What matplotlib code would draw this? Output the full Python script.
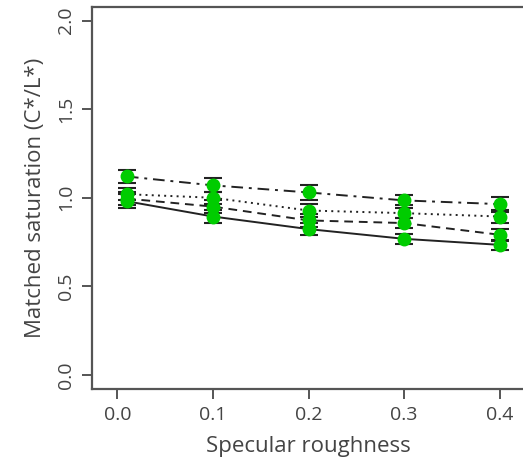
import matplotlib.pyplot as plt

roughness = [0.01, 0.1, 0.2, 0.3, 0.4]

# matched saturation per condition (four series) and their error bars
sat_dashdot = [1.12, 1.07, 1.03, 0.985, 0.964]
sat_dotted = [1.02, 1.00, 0.928, 0.913, 0.894]
sat_dashed = [0.995, 0.95, 0.872, 0.857, 0.791]
sat_solid = [0.98, 0.894, 0.823, 0.768, 0.734]

err_dashdot = [0.035, 0.04, 0.04, 0.028, 0.043]
err_dotted = [0.035, 0.035, 0.035, 0.03, 0.035]
err_dashed = [0.035, 0.035, 0.035, 0.03, 0.035]
err_solid = [0.04, 0.037, 0.033, 0.028, 0.028]

series = [
    (sat_dashdot, err_dashdot, (0, (6, 3, 1.5, 3))),
    (sat_dotted, err_dotted, (0, (1, 2.2))),
    (sat_dashed, err_dashed, (0, (4.5, 3))),
    (sat_solid, err_solid, "-"),
]

plt.rcParams["font.family"] = ["Open Sans", "DejaVu Sans"]
text_col = "#444444"

fig = plt.figure(figsize=(5.23, 4.76), dpi=100)
ax = fig.add_axes([92 / 523, 1 - 389 / 476, 433 / 523, (389 - 6.5) / 476])

for vals, errs, ls in series:
    ax.plot(roughness, vals, color="#222222", lw=1.4, linestyle=ls, zorder=2)
for vals, errs, ls in series:
    ax.errorbar(roughness, vals, yerr=errs, fmt="none", ecolor="#222222",
                elinewidth=1.2, capsize=6.5, capthick=1.5, zorder=3)
for vals, errs, ls in series:
    ax.plot(roughness, vals, "o", color="#00cc00", ms=10, mec="none", zorder=4)

ax.set_xlim(-0.0265, 0.4265)
ax.set_ylim(-0.08, 2.08)
ax.set_xticks([0.0, 0.1, 0.2, 0.3, 0.4])
ax.set_yticks([0.0, 0.5, 1.0, 1.5, 2.0])
ax.set_xticklabels(["0.0", "0.1", "0.2", "0.3", "0.4"])
ax.set_yticklabels(["0.0", "0.5", "1.0", "1.5", "2.0"], rotation=90, va="center")

for s in ax.spines.values():
    s.set_color("#555555")
    s.set_linewidth(1.6)

ax.tick_params(direction="out", length=7, width=1.4, color="#555555",
               labelsize=14, labelcolor=text_col, pad=5)
ax.set_xlabel("Specular roughness", fontsize=16, color=text_col, labelpad=9)
ax.set_ylabel("Matched saturation (C*/L*)", fontsize=16, color=text_col, labelpad=8)

fig.savefig("out.png", dpi=100)
